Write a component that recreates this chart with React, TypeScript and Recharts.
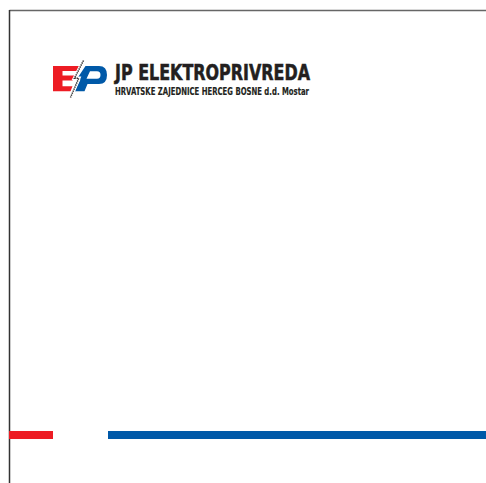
import React from 'react';
import { BarChart, Bar, XAxis, YAxis } from 'recharts';

// letterhead text
const titleText = 'JP ELEKTROPRIVREDA';
const subtitleText = 'HRVATSKE ZAJEDNICE HERCEG BOSNE d.d. Mostar';

// footer stripe: segment names and their lengths (px of page width)
const stripeSegments = ['red', 'gap', 'blue'];
const stripeLengths = [44, 55, 378];
const stripeColors: Record<string, string> = {
  red: '#ed1c24',
  gap: 'transparent',
  blue: '#0059a8',
};

const stripeRow: Record<string, any> = { row: 'stripe' };
stripeSegments.forEach((s, i) => {
  stripeRow[s] = stripeLengths[i];
});
const stripeData = [stripeRow];
const stripeTotal = stripeLengths.reduce((a, b) => a + b, 0);

const boltPath = 'M83.5 60.5 L74.5 78.3 L78.7 78.3 L70.5 97.5';

const Logo = () => (
  <svg width={486} height={483} style={{ position: 'absolute', left: 0, top: 0 }}>
    {/* frame */}
    <line x1={9.5} y1={10.5} x2={486} y2={10.5} stroke="#666" strokeWidth={1.5} />
    <line x1={9.5} y1={10} x2={9.5} y2={483} stroke="#333" strokeWidth={1.5} />

    {/* E */}
    <path
      d="M53 66 L79.5 66 L77 71 L62.5 71 L62.5 75.5 L74.5 75.5 L72.5 80.5 L62.5 80.5 L62.5 86.3 L72.5 86.3 L70.5 91.3 L53 91.3 Z"
      fill="#ed1c24"
    />
    {/* P */}
    <path
      d="M85.5 66 L99 66 Q107 66 107 75 Q107 84 99 84 L87.5 84 L84.5 91.3 L75 91.3 L80.5 79.5 L76.5 79.5 Z M90 71.3 L97 71.3 Q100.5 71.3 100.5 75 Q100.5 78.7 97 78.7 L86.5 78.7 Z"
      fill="#0059a8"
      fillRule="evenodd"
    />
    {/* lightning bolt */}
    <path d={boltPath} fill="none" stroke="#fff" strokeWidth={3.5} />
    <path
      d={boltPath}
      fill="none"
      stroke="#333"
      strokeWidth={1.5}
      strokeDasharray="1.4 0.8"
    />

    <text
      x={115}
      y={79.5}
      fontFamily="'Liberation Sans Narrow', 'DejaVu Sans Condensed', sans-serif"
      fontWeight="bold"
      fontSize={20.5}
      fill="#231f20"
      stroke="#231f20"
      strokeWidth={0.5}
      textLength={195}
      lengthAdjust="spacingAndGlyphs"
    >
      {titleText}
    </text>
    <text
      x={115}
      y={94.7}
      fontFamily="'Liberation Sans Narrow', 'DejaVu Sans Condensed', sans-serif"
      fontWeight="bold"
      fontSize={10.3}
      fill="#231f20"
      stroke="#231f20"
      strokeWidth={0.15}
      textLength={194}
      lengthAdjust="spacingAndGlyphs"
    >
      {subtitleText}
    </text>
  </svg>
);

export default function App() {
  return (
    <div
      style={{
        position: 'absolute',
        left: 0,
        top: 0,
        width: 486,
        height: 483,
        background: '#fff',
        overflow: 'hidden',
      }}
    >
      <Logo />
      <div style={{ position: 'absolute', left: 9, top: 431 }}>
        <BarChart
          layout="vertical"
          width={stripeTotal}
          height={8}
          data={stripeData}
          margin={{ top: 0, right: 0, bottom: 0, left: 0 }}
          barCategoryGap={0}
        >
          <XAxis type="number" domain={[0, stripeTotal]} hide />
          <YAxis type="category" dataKey="row" hide />
          {stripeSegments.map((s) => (
            <Bar
              key={s}
              dataKey={s}
              stackId="stripe"
              fill={stripeColors[s]}
              isAnimationActive={false}
            />
          ))}
        </BarChart>
      </div>
    </div>
  );
}
